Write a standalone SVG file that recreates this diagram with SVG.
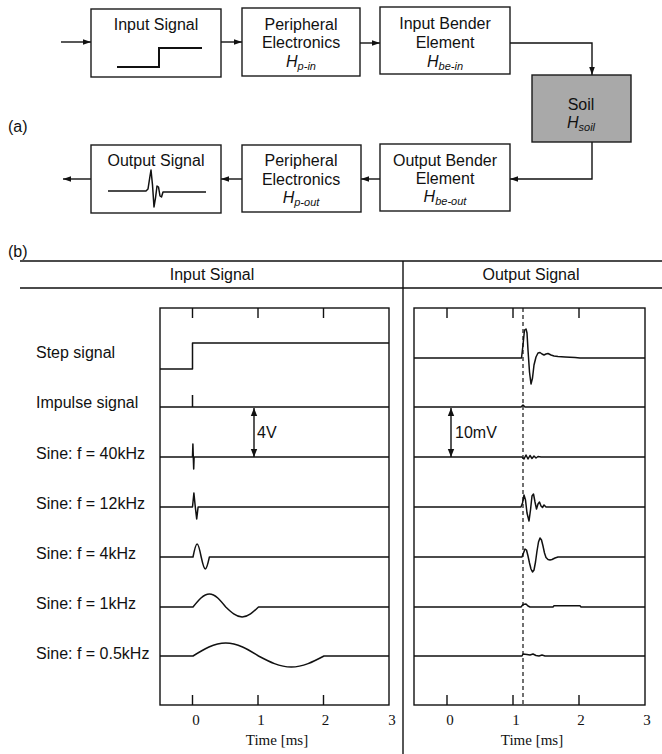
<svg xmlns="http://www.w3.org/2000/svg" width="662" height="754" viewBox="0 0 662 754">
<style>
.box{fill:#fff;stroke:#1a1a1a;stroke-width:1.4}
.soil{fill:#a9a9a9;stroke:#1a1a1a;stroke-width:1.4}
.t{font-family:"Liberation Sans",Arial,sans-serif;font-size:16px;fill:#111}
.c{text-anchor:middle}
.it{font-style:italic}
.sub{font-size:11px;font-style:italic}
.ser{font-family:"Liberation Serif","Times New Roman",serif;font-size:15px;fill:#111;text-anchor:middle}
.ln{fill:none;stroke:#111;stroke-width:1.4}
.sig{fill:none;stroke:#111;stroke-width:1.5;stroke-linejoin:round}
.dash{fill:none;stroke:#111;stroke-width:1.2;stroke-dasharray:4 3}
</style>
<defs>
<marker id="ah" viewBox="0 0 10 10" refX="10" refY="5" markerWidth="8" markerHeight="8" orient="auto" markerUnits="userSpaceOnUse">
<path d="M0,1.5 L10,5 L0,8.5 Z" fill="#111"/>
</marker>
<marker id="ah2" viewBox="0 0 10 10" refX="10" refY="5" markerWidth="8" markerHeight="9" orient="auto-start-reverse" markerUnits="userSpaceOnUse">
<path d="M0,1 L10,5 L0,9 Z" fill="#111"/>
</marker>
</defs>

<text class="t" x="8" y="132">(a)</text>

<g id="connectors">
<path class="ln" d="M61,42 H91" marker-end="url(#ah)"/>
<path class="ln" d="M221,42 H242" marker-end="url(#ah)"/>
<path class="ln" d="M360,43 H380" marker-end="url(#ah)"/>
<path class="ln" d="M510,43 H592 V75" marker-end="url(#ah)"/>
<path class="ln" d="M592,142 V179 H510" marker-end="url(#ah)"/>
<path class="ln" d="M380,179 H361" marker-end="url(#ah)"/>
<path class="ln" d="M242,179 H221" marker-end="url(#ah)"/>
<path class="ln" d="M91,179 H63" marker-end="url(#ah)"/>
</g>

<g id="input-signal">
<rect class="box" x="91" y="9" width="130" height="68"/>
<text class="t c" x="156" y="30">Input Signal</text>
<path class="ln" style="stroke-width:2" d="M117,67 H159 V48 H202"/>
</g>

<g id="peripheral-in">
<rect class="box" x="242" y="8" width="118" height="68"/>
<text class="t c" x="301" y="29.5">Peripheral</text>
<text class="t c" x="301" y="48">Electronics</text>
<text class="t c it" x="301" y="67">H<tspan class="sub" dy="3">p-in</tspan></text>
</g>

<g id="input-bender">
<rect class="box" x="380" y="7" width="130" height="67"/>
<text class="t c" x="445" y="29">Input Bender</text>
<text class="t c" x="445" y="48">Element</text>
<text class="t c it" x="445" y="67">H<tspan class="sub" dy="3">be-in</tspan></text>
</g>

<g id="soil">
<rect class="soil" x="532" y="75" width="99" height="67"/>
<text class="t c" x="581" y="109.5">Soil</text>
<text class="t c it" x="581" y="128">H<tspan class="sub" dy="3">soil</tspan></text>
</g>

<g id="output-bender">
<rect class="box" x="380" y="144" width="130" height="67"/>
<text class="t c" x="445" y="165.5">Output Bender</text>
<text class="t c" x="445" y="184">Element</text>
<text class="t c it" x="445" y="202">H<tspan class="sub" dy="3">be-out</tspan></text>
</g>

<g id="peripheral-out">
<rect class="box" x="242" y="145" width="119" height="67"/>
<text class="t c" x="301" y="166">Peripheral</text>
<text class="t c" x="301" y="185">Electronics</text>
<text class="t c it" x="301" y="203">H<tspan class="sub" dy="3">p-out</tspan></text>
</g>

<g id="output-signal">
<rect class="box" x="91" y="145" width="130" height="68"/>
<text class="t c" x="156" y="166">Output Signal</text>
<path class="sig" d="M108,191 H146 L148,189 L150,176 L151,170 L152.5,185 L154,207 L155.5,198 L157,186 L158.5,187 L160,196 L161.5,197 L163,192 H206"/>
</g>

<!-- (b) -->
<text class="t" x="8" y="257">(b)</text>
<g id="table">
<path class="ln" d="M20,261 H662 M20,288 H662 M403,261 V754"/>
<text class="t c" x="212" y="280">Input Signal</text>
<text class="t c" x="531" y="280">Output Signal</text>
</g>

<g id="row-labels">
<text class="t" x="36" y="357.5">Step signal</text>
<text class="t" x="36" y="408">Impulse signal</text>
<text class="t" x="36" y="459">Sine: f = 40kHz</text>
<text class="t" x="36" y="509">Sine: f = 12kHz</text>
<text class="t" x="36" y="559">Sine: f = 4kHz</text>
<text class="t" x="36" y="609">Sine: f = 1kHz</text>
<text class="t" x="36" y="659">Sine: f = 0.5kHz</text>
</g>

<g id="input-plot">
<rect class="ln" x="160" y="308" width="229" height="397"/>
<path class="ln" d="M192.5,308 V318 M258,308 V318 M323.5,308 V318 M192.5,705 V695 M258,705 V695 M323.5,705 V695"/>
<path class="sig" d="M160,369 H192.5 V343 H389"/>
<path class="sig" d="M160,407 H389 M192.5,407 V395"/>
<path class="sig" d="M160,457 H192.5 L192.9,444 L193.3,457 L193.7,469 L194.1,457 H389"/>
<path class="sig" d="M160,507 H192.5 L193.9,493 L195.3,507 L196.7,519 L198.1,507 H389"/>
<path class="sig" d="M160,557 H193 C194.34,550.34 195.62,544 197.1,544 C198.58,544 199.86,550.34 201.2,557 C202.54,563.15 203.82,569 205.3,569 C206.78,569 208.06,563.15 209.4,557 H389"/>
<path class="sig" d="M160,607 H193 C198.34,600.34 203.45,594 209.38,594 C215.3,594 220.41,600.34 225.75,607 C231.09,612.12 236.2,617 242.13,617 C248.05,617 253.16,612.12 258.5,607 H389"/>
<path class="sig" d="M160,656 H193 C203.68,649.34 213.9,643 225.75,643 C237.6,643 247.82,649.34 258.5,656 C269.18,661.64 279.4,667 291.25,667 C303.1,667 313.32,661.64 324,656 H389"/>
<path class="ln" d="M254,408 V457" marker-start="url(#ah2)" marker-end="url(#ah2)"/>
<text class="t" x="257" y="438">4V</text>
<text class="ser" x="196" y="725">0</text>
<text class="ser" x="261" y="725">1</text>
<text class="ser" x="325.5" y="725">2</text>
<text class="ser" x="392" y="725">3</text>
<text class="ser" x="277" y="745">Time [ms]</text>
</g>

<g id="output-plot">
<rect class="ln" x="414" y="308" width="231" height="397"/>
<path class="ln" d="M447,308 V318 M513,308 V318 M579,308 V318 M447,705 V695 M513,705 V695 M579,705 V695"/>
<path class="dash" d="M523,308 V705"/>
<path class="sig" d="M414,358 H521.5 L523,345 L524.5,330 L526,329 L527,333 L528,350 L529.5,372 L531,384 L532.5,378 L534,365 L536,357 L538,353 L540,352.5 L542,354 L544,355 L546,354 L548,353.5 L551,355 L554,356 L558,356.5 L565,357 L575,357.5 L580,358 H645"/>
<path class="sig" d="M414,407 H521 L523,405 L525,407 H645"/>
<path class="sig" d="M414,457 H522 L524,459 L526,455 L528,459 L530,455.5 L532,458.5 L534,456 L536,458 L538,456.5 L541,457 H645"/>
<path class="sig" d="M414,507 H521 L522.5,503 L524,495 L525.5,500 L527,513 L529,521 L530.5,510 L532,496 L533.5,494 L535,502 L536.5,509 L538,504 L539.5,502 L541,506 L542.5,507.5 L544,505 L546,507 H645"/>
<path class="sig" d="M414,557 H522 L523.5,553 L525,549 L526.5,550 L528,556 L529.5,563 L531,569 L532.5,572 L534,570 L535.5,562 L537,551 L538.5,542 L540,538 L541.5,540 L543,546 L544.5,553 L546,557.5 L548,559.5 L550,560 L552,559.5 L555,558 L558,557 H645"/>
<path class="sig" d="M414,607 H521 L523,604.5 L526,604 L528,606 L530,607 H553 L554,605.8 H580 L581,607 H645"/>
<path class="sig" d="M414,656 H522 L523,654 L527,654.5 L530,655 L533,654 L536,655.5 L539,656 L542,655 L545,656 H645"/>
<path class="ln" d="M451,408 V457" marker-start="url(#ah2)" marker-end="url(#ah2)"/>
<text class="t" x="455" y="438">10mV</text>
<text class="ser" x="450" y="725">0</text>
<text class="ser" x="516" y="725">1</text>
<text class="ser" x="581" y="725">2</text>
<text class="ser" x="647" y="725">3</text>
<text class="ser" x="532" y="745">Time [ms]</text>
</g>
</svg>
